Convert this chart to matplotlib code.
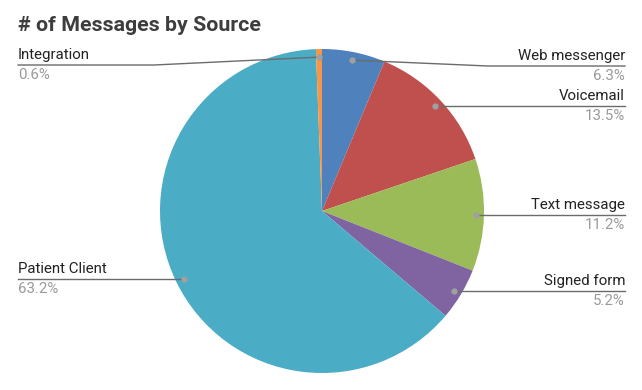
import numpy as np
import matplotlib
matplotlib.use("Agg")
import matplotlib.pyplot as plt

sources = ["Web messenger", "Voicemail", "Text message", "Signed form", "Patient Client", "Integration"]
shares = [6.3, 13.5, 11.2, 5.2, 63.2, 0.6]
pct_labels = ["6.3%", "13.5%", "11.2%", "5.2%", "63.2%", "0.6%"]
colors = ["#4F81BD", "#C0504D", "#9BBB59", "#8064A2", "#4BACC6", "#F79646"]

# label rows (pixel y of underline, from top) and side
label_y = [66, 106, 215, 291, 279, 65]
label_side = ["right", "right", "right", "right", "left", "left"]

W, H = 642, 390
plt.rcParams["font.family"] = ["Roboto", "DejaVu Sans"]

fig = plt.figure(figsize=(W / 100, H / 100), dpi=100)
ax = fig.add_axes([0, 0, 1, 1])

cx, cy, R = 322, H - 211, 162
wedges, _ = ax.pie(shares, colors=colors, startangle=90, counterclock=False,
                   center=(cx, cy), radius=R, wedgeprops=dict(linewidth=0))
ax.set_xlim(0, W)
ax.set_ylim(0, H)
ax.set_aspect("auto")
ax.axis("off")

line_col = "#6b6b6b"
for w, name, pct, ly, side in zip(wedges, sources, pct_labels, label_y, label_side):
    mid = np.deg2rad((w.theta1 + w.theta2) / 2)
    dx = cx + 0.95 * R * np.cos(mid)
    dy = cy + 0.95 * R * np.sin(mid)
    y = H - ly
    if side == "right":
        xe, xt, ha = cx + R + 4, 625, "right"
    else:
        xe, xt, ha = cx - R - 6, 18, "left"
    if abs(dy - y) > 2:
        ax.plot([dx, xe, xt], [dy, y, y], color=line_col, lw=1, zorder=3)
    else:
        ax.plot([dx, xt], [y, y], color=line_col, lw=1, zorder=3)
    ax.plot([dx], [dy if abs(dy - y) > 2 else y], "o", ms=3.5, color="#a0a0a0", zorder=4)
    ax.text(xt, y + 6, name, ha=ha, va="baseline", fontsize=10.8, color="#222222")
    ax.text(xt, y - 14, pct, ha=ha, va="baseline", fontsize=10.8, color="#9a9a9a")

fig.text(18 / W, 1 - 31 / H, "# of Messages by Source", fontsize=15.4, fontweight="bold",
         color="#3d3d3d", ha="left", va="baseline")

fig.savefig("out.png", dpi=100)
